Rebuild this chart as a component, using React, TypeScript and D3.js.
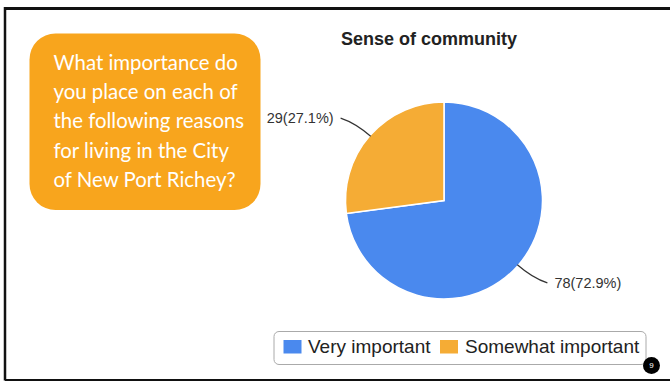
import React from "react";
import * as d3 from "d3";

const title = "Sense of community";
const categories = ["Very important", "Somewhat important"];
const counts = [78, 29];
const percents = ["72.9%", "27.1%"];
const colors = ["#4A89EE", "#F5AC35"];
const questionLines = [
  "What importance do",
  "you place on each of",
  "the following reasons",
  "for living in the City",
  "of New Port Richey?",
];
const pageNumber = "9";

const W = 670;
const H = 382;

export default function App() {
  const cx = 444;
  const cy = 200.5;
  const r = 98.5;
  const pie = d3.pie<number>().sort(null).value((d) => d)(counts);
  const arc = d3.arc<d3.PieArcDatum<number>>().innerRadius(0).outerRadius(r);

  const labels = pie.map((p, i) => {
    const a = (p.startAngle + p.endAngle) / 2;
    const dx = Math.sin(a);
    const dy = -Math.cos(a);
    const p1 = [cx + dx * (r - 1), cy + dy * (r - 1)];
    const p2 = [cx + dx * (r + 19), cy + dy * (r + 19)];
    const sx = dx >= 0 ? 1 : -1;
    const sy = dy >= 0 ? 1 : -1;
    const p3 = [p2[0] + sx * 15, p2[1] + sy * 5];
    return { i, p1, p2, p3, sx };
  });

  const legendX = 274;
  const legendY = 331.5;
  const legendW = 372;
  const legendH = 33;

  return (
    <svg
      width={W}
      height={H}
      style={{ position: "absolute", left: 0, top: 0, background: "#fff" }}
      fontFamily="'Liberation Sans', Arial, sans-serif"
    >
      <rect x={0} y={0} width={W} height={H} fill="#fff" />
      <line x1={5} y1={8.5} x2={W} y2={8.5} stroke="#111" strokeWidth={3} />
      <line x1={5} y1={7} x2={5} y2={380.5} stroke="#111" strokeWidth={2.5} />
      <line x1={5} y1={380} x2={W} y2={380} stroke="#111" strokeWidth={2} />

      <rect x={29.5} y={33.5} width={231} height={176.5} rx={26} fill="#F8A51D" />
      <g fill="#fff" fontFamily="Lato, 'Open Sans', sans-serif" fontSize={20.4}>
        {questionLines.map((t, i) => (
          <text key={i} x={53.5} y={70 + i * 29.2}>
            {t}
          </text>
        ))}
      </g>

      <text x={429} y={45} textAnchor="middle" fontWeight="bold" fontSize={18} fill="#222">
        {title}
      </text>

      <g transform={`translate(${cx},${cy})`}>
        {pie.map((p, i) => (
          <path key={i} d={arc(p) || ""} fill={colors[i]} stroke="#fff" strokeWidth={1.5} />
        ))}
      </g>

      {labels.map(({ i, p1, p2, p3, sx }) => (
        <g key={i}>
          <path
            d={`M${p1[0]},${p1[1]} Q${p2[0]},${p2[1]} ${p3[0]},${p3[1]}`}
            fill="none"
            stroke="#333"
            strokeWidth={1.2}
          />
          <text
            x={p3[0] + sx * 7}
            y={p3[1]}
            dy="0.35em"
            textAnchor={sx > 0 ? "start" : "end"}
            fontSize={14.5}
            fill="#333"
          >
            {`${counts[i]}(${percents[i]})`}
          </text>
        </g>
      ))}

      <rect
        x={legendX}
        y={legendY}
        width={legendW}
        height={legendH}
        rx={5}
        fill="#fff"
        stroke="#aaa"
        strokeWidth={1}
      />
      <rect x={283.5} y={340} width={18} height={13.5} fill={colors[0]} />
      <text x={308} y={353} fontSize={19} fill="#222">
        {categories[0]}
      </text>
      <rect x={440} y={340} width={18} height={13.5} fill={colors[1]} />
      <text x={465} y={353} fontSize={19} fill="#222">
        {categories[1]}
      </text>

      <circle cx={651.5} cy={365.5} r={8.5} fill="#000" />
      <text x={651.5} y={365.5} dy="0.35em" textAnchor="middle" fontSize={8} fill="#fff">
        {pageNumber}
      </text>
    </svg>
  );
}
